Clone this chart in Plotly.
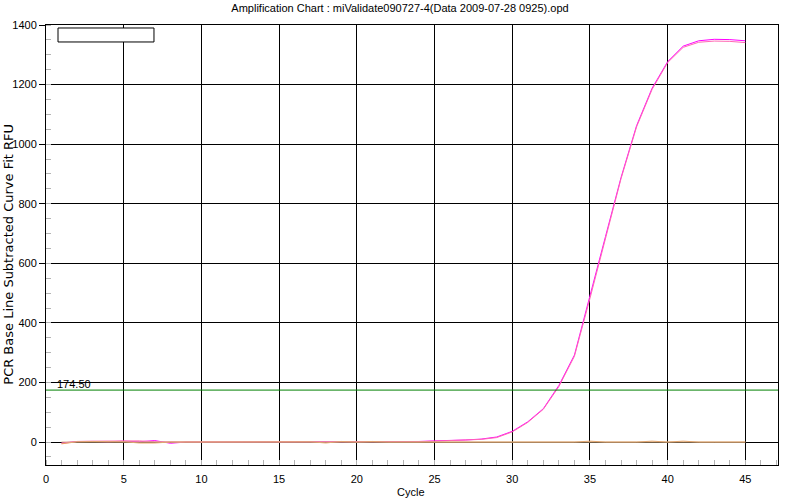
import plotly.graph_objects as go

cycles = list(range(1, 46))

# Sample curves (RFU, baseline-subtracted)
magenta_rfu = [-3, 2, 2, 1, 3, 1, 5, -4, 0, 0, 0, 0, 1, 0, 1, 0, 0, 1, 2, 1,
               0, 1, 2, 2, 4, 5, 7, 10, 17, 36, 68, 112, 190, 292, 487, 690,
               888, 1062, 1188, 1277, 1329, 1347, 1352, 1351, 1347]
pink_rfu = [-5, 2, 3, 3, 2, 4, 1, 0, 0, 0, 0, 0, 0, 1, 0, 0, 0, 0, 2, 1,
            0, 0, 1, 1, 3, 5, 6, 9, 15, 34, 66, 110, 186, 288, 482, 686,
            884, 1058, 1184, 1274, 1325, 1342, 1346, 1345, 1341]
orange_rfu = [-6, 1, 2, 2, 1, -3, -3, 0, 0, 0, 0, 0, 0, 0, 2, 2, 1, -3, 2, 0,
              2, 0, 0, 2, 2, 2, 0, 0, 2, 0, 0, 0, 0, 0, 3, 0, 0, 0, 3, 0,
              3, 0, 0, 0, 0]
tan_rfu = [0] * 45

threshold = 174.5
threshold_label = "174.50"

x_ticks = [0, 5, 10, 15, 20, 25, 30, 35, 40, 45]
y_ticks = [0, 200, 400, 600, 800, 1000, 1200, 1400]

fig = go.Figure()
series = [
    ("magenta", magenta_rfu, "#FF00FF"),
    ("pink", pink_rfu, "#FF69B4"),
    ("orange", orange_rfu, "#EDA060"),
    ("tan", tan_rfu, "#D6AE80"),
]
for name, vals, col in series:
    fig.add_trace(go.Scatter(x=cycles, y=vals, mode="lines", name=name,
                             line=dict(color=col, width=1), showlegend=False,
                             hoverinfo="skip"))

# threshold line
fig.add_trace(go.Scatter(x=[0, 47.1], y=[threshold, threshold], mode="lines",
                         line=dict(color="#008000", width=1), showlegend=False,
                         hoverinfo="skip"))

font = "Liberation Sans, Arial, sans-serif"

fig.update_layout(
    width=800, height=500,
    margin=dict(l=46, r=22, t=25, b=35, autoexpand=False),
    paper_bgcolor="white", plot_bgcolor="white",
    font=dict(family=font, size=11, color="black"),
    title=dict(text="Amplification Chart : miValidate090727-4(Data 2009-07-28 0925).opd",
               x=0.5, xref="container", xanchor="center", y=0.984, yanchor="middle",
               font=dict(size=11, family=font)),
    xaxis=dict(range=[0, 47.1], tickvals=x_ticks, showgrid=True, gridcolor="black",
               gridwidth=1, showline=True, linecolor="black", linewidth=1, mirror=True,
               zeroline=False, ticks="outside", ticklen=4, tickcolor="rgba(0,0,0,0)",
               tickfont=dict(size=11), automargin=False,
               minor=dict(dtick=1, tick0=0, ticks="inside", ticklen=5,
                          tickcolor="#b4b4b4", showgrid=False)),
    yaxis=dict(range=[-77, 1400], tickvals=y_ticks, showgrid=True, gridcolor="black",
               gridwidth=1, showline=True, linecolor="black", linewidth=1, mirror=True,
               zeroline=True, zerolinecolor="black", zerolinewidth=1, automargin=False,
               ticks="outside", ticklen=6, tickcolor="black", tickfont=dict(size=11),
               minor=dict(dtick=50, tick0=0, ticks="inside", ticklen=5,
                          tickcolor="#b4b4b4", showgrid=False)),
    annotations=[
        dict(text="PCR Base Line Subtracted Curve Fit RFU", xref="paper", yref="paper",
             x=-0.0505, y=0.478, xanchor="center", yanchor="middle", textangle=-90,
             showarrow=False, font=dict(size=13, family="DejaVu Sans, sans-serif")),
        dict(text="Cycle", xref="paper", yref="paper", x=0.498, y=-0.061,
             xanchor="center", yanchor="middle", showarrow=False,
             font=dict(size=11, family=font)),
        dict(text=threshold_label, xref="x", yref="y", x=0.6, y=threshold + 22,
             xanchor="left", yanchor="middle", showarrow=False,
             font=dict(size=11, family=font)),
    ],
    shapes=[
        dict(type="rect", xref="paper", yref="paper", x0=0.0164, x1=0.1475,
             y0=0.9614, y1=0.9932, line=dict(color="black", width=1),
             fillcolor="white"),
    ],
)

fig.write_html("out.html", config={"displayModeBar": False},
               post_script="document.body.style.margin='0';document.body.style.overflow='hidden';")
